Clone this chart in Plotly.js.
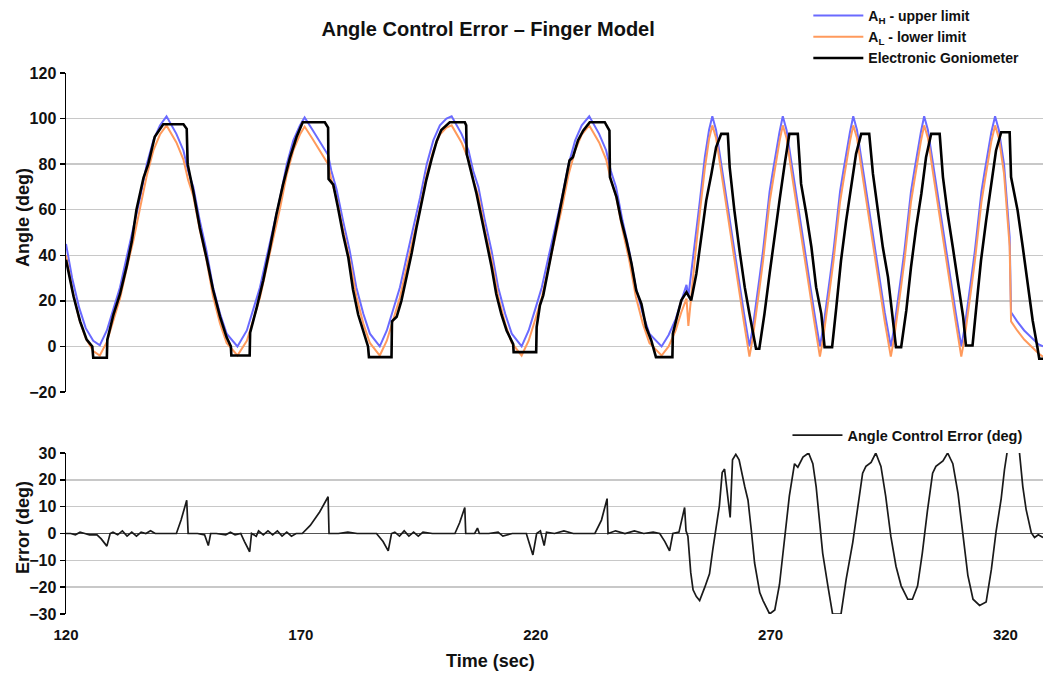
<!DOCTYPE html>
<html><head><meta charset="utf-8">
<script src="https://cdn.plot.ly/plotly-3.0.1.min.js"></script>
<style>html,body{margin:0;padding:0;background:#fff}#chart{width:1043px;height:675px}</style>
</head><body><div id="chart"></div>
<script>
// ---- data ----
const timeTicks = [120, 170, 220, 270, 320];

const limitTime = [
  120, 121.3, 122.8, 124.2, 125.8, 127.2,
  128.7, 130.2, 131.5, 132.9, 134.4, 135.8, 137.2, 138.6, 140, 141.4,
  143.5, 145, 146, 147.1, 148.5, 149.9, 151.3, 152.8, 154.2, 156.5,
  158.5, 160, 161.3, 162.7, 164.2, 165.6, 167, 168.4, 169.8, 170.8,
  172.5, 174, 175.8, 176.5, 177.6, 179, 180.4, 181.8, 183.3, 184.7, 186.8,
  188.3, 189.8, 191.1, 192.5, 194, 195.4, 196.8, 198.2, 199.6, 201, 202.1,
  204.2, 205.7, 206.7, 207.8, 209.2, 210.6, 212, 213.5, 214.9, 217,
  218.5, 220, 221.3, 222.7, 224.2, 225.6, 227, 228.4, 229.8, 231.4,
  233.5, 235, 236, 237.1, 238.5, 239.9, 241.3, 242.8, 244.2, 246.8,
  248.3, 249.8, 251, 252.1, 252.5, 253.5, 254.2, 254.9, 256, 256.9, 257.6,
  258.4, 259.5, 260.8, 262, 263.2, 264.3, 265.5,
  266.2, 266.9, 267.7, 268.4, 269.1, 269.8, 270.5, 271.2, 271.9, 272.6,
  273.4, 274.5, 275.8, 277, 278.2, 279.3, 280.5,
  281.2, 281.9, 282.7, 283.4, 284.1, 284.8, 285.5, 286.2, 286.9, 287.6,
  288.4, 289.5, 290.8, 292, 293.2, 294.3, 295.6,
  296.3, 297, 297.8, 298.5, 299.2, 299.9, 300.6, 301.3, 302, 302.7,
  303.5, 304.6, 305.9, 307.1, 308.3, 309.4, 310.6,
  311.3, 312, 312.8, 313.5, 314.2, 314.9, 315.6, 316.3, 317, 317.8,
  318.6, 319.7, 320.9, 321.2, 322.5, 324, 325.5, 327, 328
];
const upperLimit = [
  45, 30, 17, 8, 2.5, 0.5,
  7, 17, 26, 39, 52, 65.5, 80, 90.4, 97, 101,
  93.3, 86, 77, 70, 55, 42, 26, 14.3, 5.6, 0,
  7, 17, 26, 39, 52, 65.5, 80, 90.4, 97, 100.5,
  95, 90, 84, 77, 69, 55, 42, 26, 14.3, 5.6, 0,
  7, 17, 26, 39, 52, 65.5, 80, 90.4, 97, 100, 101,
  93.3, 86, 77, 70, 55, 42, 26, 14.3, 5.6, 0,
  7, 17, 26, 39, 52, 65.5, 80, 90.4, 97, 101,
  93.3, 86, 77, 70, 55, 42, 26, 14.3, 5.6, 0,
  5, 12, 20, 27, 22, 38, 50, 63, 83, 95, 101,
  95, 80, 63, 47, 30, 15, 0,
  8, 20, 31, 42, 55, 68, 77, 86, 94, 101,
  95, 80, 63, 47, 30, 15, 0,
  8, 20, 31, 42, 55, 68, 77, 86, 94, 101,
  95, 80, 63, 47, 30, 15, 0,
  8, 20, 31, 42, 55, 68, 77, 86, 94, 101,
  95, 80, 63, 47, 30, 15, 0,
  8, 20, 31, 42, 55, 68, 77, 86, 94, 101,
  95, 80, 48, 15, 11, 7, 4, 1, 0
];
const lowerLimit = [
  40, 25, 12, 3.5, -2, -4,
  2, 12, 21, 34, 47, 61, 75, 86, 93, 97,
  89.5, 82, 73, 66, 51, 38, 22, 10, 1.5, -4,
  2.5, 12.5, 21.5, 34.5, 47.5, 61, 75.5, 86, 93, 96.5,
  91, 86, 80, 73, 65, 51, 38, 22, 10, 1.5, -4,
  2.5, 12.5, 21.5, 34.5, 47.5, 61, 75.5, 86, 93, 96, 97,
  89.5, 82, 73, 66, 51, 38, 22, 10, 1.5, -4,
  2.5, 12.5, 21.5, 34.5, 47.5, 61, 75.5, 86, 93, 97,
  89.5, 82, 73, 66, 51, 38, 22, 10, 1.5, -4,
  0, 7, 15, 21, 9, 31, 45, 58, 78, 91, 97,
  91.5, 76, 59, 43, 26, 11, -4.5,
  3.5, 15.5, 26.5, 37.5, 50.5, 63.5, 72.5, 82, 90, 97,
  91.5, 76, 59, 43, 26, 11, -4.5,
  3.5, 15.5, 26.5, 37.5, 50.5, 63.5, 72.5, 82, 90, 97,
  91.5, 76, 59, 43, 26, 11, -4.5,
  3.5, 15.5, 26.5, 37.5, 50.5, 63.5, 72.5, 82, 90, 97,
  91.5, 76, 59, 43, 26, 11, -4.5,
  3.5, 15.5, 26.5, 37.5, 50.5, 63.5, 72.5, 82, 90, 97,
  91.5, 76, 44, 11, 7, 3, 0, -3, -4.5
];

const gonioTime = [
  120, 121.6, 123, 124.4, 125.6, 125.8, 128.7, 128.8, 130.1, 131.5, 132.9, 134, 135, 136.5, 137.5, 138.9, 140.7,
  145, 145.7, 145.9, 147.1, 148.5, 149.9, 151.3, 152.8, 154.2, 155.1, 155.2, 159.1, 159.2, 160.6, 162, 163.4,
  164.8, 166.2, 167.7, 169.1, 170.4, 175.1, 175.8, 175.9, 176.9, 177.9, 179, 180.1, 181.1, 182.2, 183.3, 184.3,
  184.5, 189.3, 189.4, 190.4, 191.4, 192.5, 193.6, 194.6, 195.7, 196.7, 197.8, 198.9, 199.9, 201.7, 204.9, 205.2,
  205.3, 206.3, 207.4, 208.4, 209.5, 210.6, 211.6, 212.7, 213.8, 215.2, 215.3, 220.1, 220.2, 220.9, 221.6, 222.6,
  223.7, 224.7, 225.8, 227.2, 227.9, 229, 230.1, 231.5, 234.7, 235.7, 235.8, 237.2, 238.2, 239.3, 240.4, 241.4,
  242.5, 243.5, 244.6, 245.6, 249.1, 249.2, 249.9, 251, 252.1, 253.1, 254.2, 255.2, 256.3, 257.4, 258.4, 259.5,
  260.9, 261.3, 262.3, 263.4, 264.5, 265.5, 266.9, 267.6, 268.7, 269.8, 270.9, 271.9, 273, 274, 275.8, 276.5,
  277.6, 278.7, 279.7, 280.8, 281.5, 283.1, 284, 285, 286.1, 287.2, 288.2, 289.3, 291, 291.8, 292.8, 293.9,
  295, 296, 296.7, 297.8, 298.9, 299.9, 301, 302.1, 303.1, 304.2, 306, 306.7, 307.7, 308.8, 309.9, 311,
  311.6, 313, 313.8, 314.8, 315.9, 317, 318, 319.1, 320.9, 321.2, 322.6, 323.7, 324.7, 325.8, 326.8, 327.2, 328
];
const gonioAngle = [
  38, 22, 11, 3, 0, -5, -5, 3, 14, 23, 35, 46, 60, 74, 80, 92, 97.5,
  97.5, 95.5, 80, 68, 52, 39, 25, 13, 4, 0, -4, -4, 6, 17, 29, 43,
  58, 71, 83, 92, 98.4, 98.4, 96, 73.5, 71, 61, 49, 39, 25, 14, 7, 0,
  -4.7, -4.7, 11, 13, 20, 30, 41, 52, 63, 73, 82, 90, 95, 98.4, 98.4, 97,
  84.5, 76.5, 67, 57, 46.5, 35, 23, 14, 7, 1, -2.5, -2.5, 8.5, 18, 22.4, 33,
  43.5, 55, 67, 81.6, 83, 90.4, 94.7, 98.4, 98.4, 94.7, 74.3, 65.5, 55.3, 46.5, 36.3, 24.6,
  18.7, 8.5, 2.6, -4.7, -4.7, 5.6, 11.4, 20.2, 23.8, 20.2, 31.9, 46.5, 64, 75.7, 87.4, 93.3,
  93.3, 78.6, 59.6, 42, 26, 14.3, -1, -1, 14.3, 32, 49.4, 64, 80, 93.3, 93.3, 71.3,
  58.2, 43.5, 26, 14.3, -0.3, -0.3, 17.2, 37.7, 55.3, 69.9, 84.5, 93.3, 93.3, 75.7, 61, 43.5,
  30.4, 12.9, -0.3, -0.3, 15.8, 34.8, 52.3, 67, 83, 93.3, 93.3, 74.3, 58.2, 43.5, 27.5, 12.9,
  0.4, 0.4, 17.2, 37.7, 55.3, 71.3, 86, 94, 94, 74.3, 59.6, 43.5, 28.9, 11.4, -0.3, -5.4, -5.4
];

const errorTime = [
  120, 121, 122, 123, 124, 125, 126.6, 127.5, 128.7, 129.4, 130, 131, 132, 133, 134, 135, 136, 137, 138, 139, 141,
  143.5, 144.5, 145.2, 145.7, 146, 148, 149.5, 150.3, 150.8, 152, 154, 155, 156, 157.2, 158, 159.1, 159.5,
  160.5, 161, 162, 163, 164, 165, 166, 167, 168, 169, 170.3, 172, 174, 175.8, 176, 178, 180, 182, 185, 186.1,
  187.5, 188.6, 189.3, 190, 191, 192, 193, 194, 195, 196, 198, 202.8, 203.8, 204.9, 205.1, 207, 207.6, 208,
  210, 212, 213, 215, 218, 219.4, 220.2, 221, 221.8, 222.3, 224, 226, 228, 230, 232.6, 234, 235.2, 235.4,
  237, 239, 241, 243, 245, 246.4, 247.5, 248.5, 249.2, 250.5, 251.7, 252, 252.4, 253, 253.5, 254.2, 254.9,
  256, 257, 257.7, 258.4, 259.1, 259.7, 260.2, 261.4, 261.9, 262.6, 263.3, 264.5, 265.2, 265.9, 266.6, 267.7,
  268.4, 269.8, 270.9, 271.9, 273, 274, 275.1, 275.8, 276.9, 278.1, 279, 279.7, 280.4, 281.1, 282.2, 283.2,
  285, 286.1, 287.5, 288.6, 289.6, 290.3, 291.4, 292.4, 293.5, 294.5, 295.6, 296.7, 297.8, 299.2, 300.2, 301.3,
  302.3, 303.4, 304.5, 305.2, 306.7, 307.7, 308.8, 309.9, 311, 312, 313.1, 314.5, 315.9, 317, 318, 319.1,
  319.8, 320.5, 321.2, 322.2, 323, 323.7, 324.4, 325.5, 326.2, 327, 328
];
const errorValue = [
  0, 0, -0.5, 0.5, 0, -0.5, -0.5, -2, -4.7, 0, 0.5, -0.5, 1, -1, 0.5, -1, 0.5, 0, 1, 0, 0,
  0, 5, 9, 12.4, 0, 0, -0.5, -4.5, 0, 0, -0.5, 0.5, -0.5, 0, -3, -6.8, 0,
  -1, 1, -0.5, 1, -0.5, 1, -1, 0.5, -1, 0, 0, 3, 8, 13.7, 0, 0, 0.5, 0, 0, 0,
  -3, -6.5, 0, 0.5, -1, 1, -1, 0.5, -1, 0.5, 0, 0, 4, 9.7, 0, 0, 2, 0,
  0, 0.5, -1, 0, 0, -8, 0, 1, -4.5, 0.5, 0, 1, 0, 0, 0, 5, 13, 0,
  1, 0, 1, 0, 0.5, 0, -3, -6.5, 0, 0.5, 9.7, 1, -1, -14.5, -21, -23.5, -25,
  -20, -15, -6, 1.6, 10.3, 22.7, 24, 6, 27.5, 29.5, 27.5, 17.5, 12.4, 1.2, -11, -22,
  -25, -30, -28.5, -19, -1, 14, 26, 24.7, 28.5, 30, 26, 17.5, 5, -7.4, -19.5, -30,
  -30, -17, -3.3, 11, 22.5, 25, 26.5, 30, 25, 14, -1, -12.2, -19.5, -24.5, -24.5, -19.5,
  -7.4, 8.5, 22.5, 25, 27, 30, 26, 15, -2, -15.6, -24.5, -26.8, -25.5, -13.5, 0.6, 13,
  23.8, 30, 40, 40, 30, 17.5, 9, 0.3, -1.5, -0.5, -1.5
];

// ---- chart ----
const FONT = 'Liberation Sans, Arial, Helvetica, sans-serif';
const TXT = '#111111';

const traces = [
  {x: limitTime, y: upperLimit, type: 'scatter', mode: 'lines', name: 'A<sub>H</sub> - upper limit',
   line: {color: '#6a6aff', width: 2}, xaxis: 'x', yaxis: 'y', legend: 'legend'},
  {x: limitTime, y: lowerLimit, type: 'scatter', mode: 'lines', name: 'A<sub>L</sub> - lower limit',
   line: {color: '#ff9a5c', width: 2}, xaxis: 'x', yaxis: 'y', legend: 'legend'},
  {x: gonioTime, y: gonioAngle, type: 'scatter', mode: 'lines', name: 'Electronic Goniometer',
   line: {color: '#000000', width: 2.6}, xaxis: 'x', yaxis: 'y', legend: 'legend'},
  {x: errorTime, y: errorValue, type: 'scatter', mode: 'lines', name: 'Angle Control Error (deg)',
   line: {color: '#1a1a1a', width: 1.7}, xaxis: 'x2', yaxis: 'y2', legend: 'legend2'}
];

const yCommon = {
  showline: true, linecolor: '#000', linewidth: 1.5,
  ticks: 'outside', ticklen: 5, tickcolor: '#000', tickwidth: 1.5,
  showgrid: true, gridcolor: '#c8c8c8', gridwidth: 1.5,
  tickfont: {family: FONT, size: 16, weight: 700, color: TXT},
  fixedrange: true
};

const layout = {
  width: 1043, height: 675,
  margin: {l: 66, r: 0, t: 73, b: 61, autoexpand: false},
  paper_bgcolor: '#ffffff', plot_bgcolor: '#ffffff',
  font: {family: FONT, color: TXT},
  title: {text: 'Angle Control Error – Finger Model',
          font: {family: FONT, size: 20, weight: 700, color: TXT},
          xref: 'container', x: 0.468, xanchor: 'center',
          yref: 'container', y: 0.957, yanchor: 'middle'},
  showlegend: true,
  xaxis: {domain: [0, 1], range: [120, 328], anchor: 'y', showticklabels: false,
          showgrid: false, zeroline: false, showline: false, ticks: ''},
  yaxis: Object.assign({}, yCommon, {domain: [0.4104, 1], range: [-20, 120], dtick: 20, tick0: 0, zeroline: false}),
  xaxis2: {domain: [0, 1], range: [120, 328], anchor: 'y2', tickvals: timeTicks,
           ticks: '', showgrid: false, zeroline: false, showline: false,
           ticklabelstandoff: 10,
           tickfont: {family: FONT, size: 15, weight: 700, color: TXT}},
  yaxis2: Object.assign({}, yCommon, {domain: [0, 0.2976], range: [-30, 30], dtick: 10, tick0: 0,
           zeroline: true, zerolinecolor: '#555555', zerolinewidth: 1.8}),
  legend: {xref: 'container', yref: 'container', x: 0.775, y: 1.0, xanchor: 'left', yanchor: 'top',
           bgcolor: 'rgba(0,0,0,0)', borderwidth: 0, itemwidth: 50, tracegroupgap: 0,
           font: {family: FONT, size: 14, weight: 700, color: TXT}},
  legend2: {xref: 'container', yref: 'container', x: 0.755, y: 0.379, xanchor: 'left', yanchor: 'top',
            bgcolor: 'rgba(0,0,0,0)', borderwidth: 0, itemwidth: 50,
            font: {family: FONT, size: 14.5, weight: 700, color: TXT}},
  annotations: [
    {text: 'Angle (deg)', xref: 'paper', yref: 'paper', x: -0.044, y: 0.732, textangle: -90,
     showarrow: false, xanchor: 'center', yanchor: 'middle',
     font: {family: FONT, size: 18, weight: 700, color: TXT}},
    {text: 'Error (deg)', xref: 'paper', yref: 'paper', x: -0.044, y: 0.159, textangle: -90,
     showarrow: false, xanchor: 'center', yanchor: 'middle',
     font: {family: FONT, size: 18, weight: 700, color: TXT}},
    {text: 'Time (sec)', xref: 'paper', yref: 'paper', x: 0.435, y: -0.087,
     showarrow: false, xanchor: 'center', yanchor: 'middle',
     font: {family: FONT, size: 18, weight: 700, color: TXT}}
  ]
};

Plotly.newPlot('chart', traces, layout, {displayModeBar: false, staticPlot: true});
</script></body></html>
